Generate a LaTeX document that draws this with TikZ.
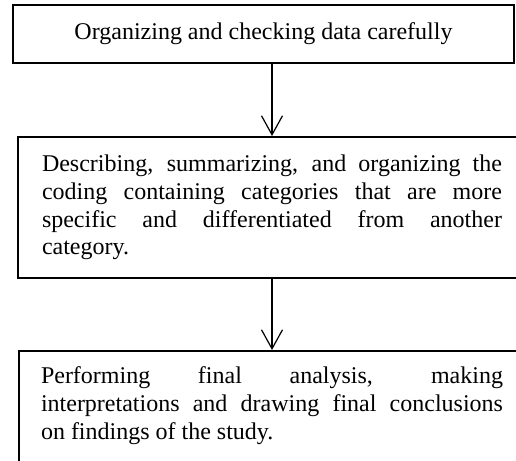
\documentclass[tikz,border=0pt]{standalone}
\usepackage{fontspec}
\setmainfont{Liberation Serif}
\usetikzlibrary{arrows.meta, positioning}

\begin{document}
\begin{tikzpicture}[x=0.5pt, y=-0.5pt,
    stagebox/.style={draw, line width=1pt, inner sep=8pt,
      font=\fontsize{12pt}{13.8pt}\selectfont},
    flowarrow/.style={line width=0.6pt,
      -{Straight Barb[length=9.5pt, width=10.5pt, line width=0.6pt]}}]
  \useasboundingbox (0,0) rectangle (516,461);

  % First step
  \node[stagebox, minimum width=250.5pt, minimum height=29pt] (organize) at (263.5,34)
    {Organizing and checking data carefully};

  % Second step
  \node[stagebox, minimum width=254pt, minimum height=70.5pt, text width=230pt, align=justify] (describe) at (272,207.5)
    {\hyphenpenalty=10000 Describing, summarizing, and organizing the\linebreak
     coding containing categories that are more\linebreak
     specific and differentiated from another\linebreak
     category.};

  % Third step
  \node[stagebox, minimum width=253pt, text width=231pt, align=justify, anchor=north, text depth=60pt] (perform) at (272,350)
    {\hyphenpenalty=10000 Performing final analysis, making\linebreak
     interpretations and drawing final conclusions\linebreak
     on findings of the study.};

  \draw[flowarrow] (organize.south -| describe.north) -- (describe.north);
  \draw[flowarrow] (describe.south) -- (perform.north);
\end{tikzpicture}
\end{document}
